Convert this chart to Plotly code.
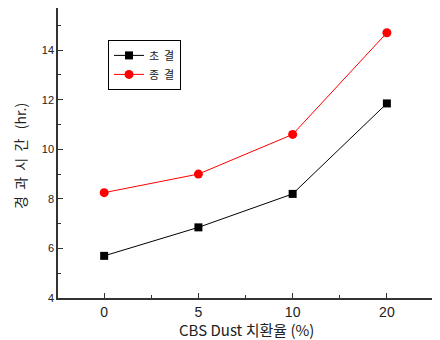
import plotly.graph_objects as go

categories = ["0", "5", "10", "20"]
initial_set = [5.7, 6.85, 8.2, 11.85]   # 초 결
final_set = [8.25, 9.0, 10.6, 14.7]     # 종 결
series_names = ["초\u00a0\u00a0결", "종\u00a0\u00a0결"]

xpos = list(range(len(categories)))

fig = go.Figure()
fig.add_trace(go.Scatter(x=xpos, y=initial_set, mode="lines+markers", name=series_names[0],
                         line=dict(color="black", width=1),
                         marker=dict(symbol="square", size=8, color="black")))
fig.add_trace(go.Scatter(x=xpos, y=final_set, mode="lines+markers", name=series_names[1],
                         line=dict(color="red", width=1),
                         marker=dict(symbol="circle", size=9, color="red")))

font_ko = "Noto Sans CJK KR"
font_num = "Liberation Sans"

fig.update_layout(
    width=432, height=332,
    margin=dict(l=50, r=6, t=0, b=42, autoexpand=False),
    paper_bgcolor="white", plot_bgcolor="white",
    font=dict(family=font_ko, color="#222"),
    showlegend=True,
    legend=dict(x=0.133, y=0.89, xanchor="left", yanchor="top",
                bordercolor="black", borderwidth=1, bgcolor="white",
                font=dict(size=11, family=font_ko), tracegroupgap=0,
                itemwidth=30),
    xaxis=dict(range=[-0.49, 3.5], tickvals=xpos, ticktext=categories, automargin=False,
               ticks="inside", ticklen=5, tickwidth=1, tickcolor="#333",
               showline=True, linecolor="#333", linewidth=1.5,
               showgrid=False, zeroline=False,
               tickfont=dict(size=14, family=font_num, color="#222"),
               minor=dict(tickvals=[0.5, 1.5, 2.5], ticks="inside", ticklen=3, tickcolor="#333", showgrid=False)),
    yaxis=dict(range=[4, 15.7], dtick=2, tick0=4, automargin=False,
               ticks="inside", ticklen=5, tickwidth=1, tickcolor="#333",
               showline=True, linecolor="#333", linewidth=1.5,
               showgrid=False, zeroline=False,
               tickfont=dict(size=11, family=font_num, color="#222"),
               minor=dict(dtick=1, ticks="inside", ticklen=3, tickcolor="#333", showgrid=False)),
    yaxis2=dict(overlaying="y", side="right", range=[0, 290/30], dtick=1, automargin=False,
                ticks="inside", ticklen=4, tickcolor="#555", showticklabels=False,
                showline=True, linecolor="#555", linewidth=1.5, showgrid=False, zeroline=False),
    annotations=[
        dict(text="CBS Dust 치환율 (%)", xref="paper", yref="paper", x=0.5, y=0,
             yshift=-31, xanchor="center", yanchor="middle", showarrow=False,
             font=dict(size=15, family=font_ko, color="#222")),
        dict(text="경\u00a0\u00a0과\u00a0\u00a0시\u00a0\u00a0간\u00a0\u00a0\u00a0(hr.)", xref="paper", yref="paper",
             x=0, y=(298 - 156) / 290, xshift=-38, xanchor="center", yanchor="middle",
             showarrow=False, textangle=-90,
             font=dict(size=14, family=font_ko, color="#222")),
    ],
)

fig.write_html("out.html")
